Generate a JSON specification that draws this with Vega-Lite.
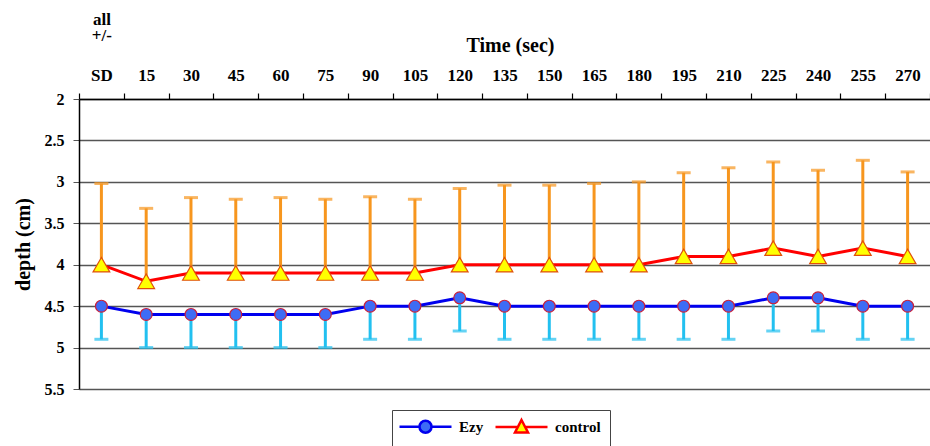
{
  "$schema": "https://vega.github.io/schema/vega-lite/v6.json",
  "width": 851,
  "height": 290,
  "autosize": {"type": "none"},
  "padding": {"left": 79, "top": 99, "right": 0, "bottom": 57},
  "background": "white",
  "config": {"view": {"stroke": null}, "font": "Liberation Serif"},
  "data": {"values": [
    {"time": "all +/- SD", "series": "Ezy", "depth": 4.5, "err": 4.9},
    {"time": "15", "series": "Ezy", "depth": 4.6, "err": 5.0},
    {"time": "30", "series": "Ezy", "depth": 4.6, "err": 5.0},
    {"time": "45", "series": "Ezy", "depth": 4.6, "err": 5.0},
    {"time": "60", "series": "Ezy", "depth": 4.6, "err": 5.0},
    {"time": "75", "series": "Ezy", "depth": 4.6, "err": 5.0},
    {"time": "90", "series": "Ezy", "depth": 4.5, "err": 4.9},
    {"time": "105", "series": "Ezy", "depth": 4.5, "err": 4.9},
    {"time": "120", "series": "Ezy", "depth": 4.4, "err": 4.8},
    {"time": "135", "series": "Ezy", "depth": 4.5, "err": 4.9},
    {"time": "150", "series": "Ezy", "depth": 4.5, "err": 4.9},
    {"time": "165", "series": "Ezy", "depth": 4.5, "err": 4.9},
    {"time": "180", "series": "Ezy", "depth": 4.5, "err": 4.9},
    {"time": "195", "series": "Ezy", "depth": 4.5, "err": 4.9},
    {"time": "210", "series": "Ezy", "depth": 4.5, "err": 4.9},
    {"time": "225", "series": "Ezy", "depth": 4.4, "err": 4.8},
    {"time": "240", "series": "Ezy", "depth": 4.4, "err": 4.8},
    {"time": "255", "series": "Ezy", "depth": 4.5, "err": 4.9},
    {"time": "270", "series": "Ezy", "depth": 4.5, "err": 4.9},
    {"time": "all +/- SD", "series": "control", "depth": 4.0, "err": 3.02},
    {"time": "15", "series": "control", "depth": 4.2, "err": 3.32},
    {"time": "30", "series": "control", "depth": 4.1, "err": 3.19},
    {"time": "45", "series": "control", "depth": 4.1, "err": 3.21},
    {"time": "60", "series": "control", "depth": 4.1, "err": 3.19},
    {"time": "75", "series": "control", "depth": 4.1, "err": 3.21},
    {"time": "90", "series": "control", "depth": 4.1, "err": 3.18},
    {"time": "105", "series": "control", "depth": 4.1, "err": 3.21},
    {"time": "120", "series": "control", "depth": 4.0, "err": 3.08},
    {"time": "135", "series": "control", "depth": 4.0, "err": 3.04},
    {"time": "150", "series": "control", "depth": 4.0, "err": 3.04},
    {"time": "165", "series": "control", "depth": 4.0, "err": 3.02},
    {"time": "180", "series": "control", "depth": 4.0, "err": 3.0},
    {"time": "195", "series": "control", "depth": 3.9, "err": 2.89},
    {"time": "210", "series": "control", "depth": 3.9, "err": 2.83},
    {"time": "225", "series": "control", "depth": 3.8, "err": 2.76},
    {"time": "240", "series": "control", "depth": 3.9, "err": 2.86},
    {"time": "255", "series": "control", "depth": 3.8, "err": 2.74},
    {"time": "270", "series": "control", "depth": 3.9, "err": 2.88}
  ]},
  "encoding": {
    "x": {
      "field": "time", "type": "nominal", "sort": null,
      "scale": {"type": "band", "paddingInner": 0, "paddingOuter": 0},
      "axis": {
        "orient": "top", "title": "Time (sec)", "labelAngle": 0, "tickBand": "extent",
        "grid": false, "domainColor": "#000000", "domainWidth": 1.5, "tickColor": "#000000", "tickWidth": 1.2,
        "tickSize": 6, "labelFontSize": 17, "labelFontWeight": "bold", "labelColor": "#000000",
        "labelPadding": 9, "labelLineHeight": -8,
        "labelExpr": "datum.value == 'all +/- SD' ? ['SD', '\u200b', '\u200b', '\u200b', '\u200b', '+/-', '\u200b', 'all'] : datum.label",
        "titleFontSize": 20, "titleFontWeight": "bold", "titleColor": "#000000",
        "titleY": -54, "titleX": 431, "titleBaseline": "middle"
      }
    },
    "y": {
      "field": "depth", "type": "quantitative",
      "scale": {"domain": [2, 5.5], "reverse": true, "nice": false, "zero": false},
      "axis": {
        "title": "depth (cm)", "values": [2, 2.5, 3, 3.5, 4, 4.5, 5, 5.5], "format": "~g",
        "gridColor": "#555555", "gridWidth": 1.3, "tickColor": "#555555", "tickSize": 6,
        "domainColor": "#000000", "domainWidth": 1.5, "labelFlush": false,
        "labelFontSize": 16, "labelFontWeight": "bold", "labelColor": "#000000", "labelPadding": 9,
        "titleFontSize": 20, "titleFontWeight": "bold", "titleColor": "#000000", "titlePadding": 11
      }
    }
  },
  "layer": [
    {
      "mark": {"type": "rule", "strokeWidth": 3},
      "encoding": {
        "y2": {"field": "err"},
        "color": {"condition": {"test": "datum.series === 'Ezy'", "value": "#22c0f0"}, "value": "#f7961e"}
      }
    },
    {
      "mark": {"type": "tick", "thickness": 3, "size": 14},
      "encoding": {
        "y": {"field": "err", "type": "quantitative"},
        "color": {"condition": {"test": "datum.series === 'Ezy'", "value": "#22c0f0"}, "value": "#f7961e"}
      }
    },
    {
      "mark": {"type": "line", "strokeWidth": 3},
      "encoding": {
        "detail": {"field": "series"},
        "color": {"condition": {"test": "datum.series === 'Ezy'", "value": "#0000ee"}, "value": "#ff0000"}
      }
    },
    {
      "mark": {"type": "point", "filled": true, "opacity": 1, "strokeWidth": 1.2},
      "encoding": {
        "shape": {"condition": {"test": "datum.series === 'Ezy'", "value": "circle"}, "value": "triangle-up"},
        "fill": {"condition": {"test": "datum.series === 'Ezy'", "value": "#3d6cf5"}, "value": "#ffff00"},
        "stroke": {"condition": {"test": "datum.series === 'Ezy'", "value": "#c8203c"}, "value": "#e0500a"},
        "size": {"condition": {"test": "datum.series === 'Ezy'", "value": 140}, "value": 280}
      }
    },
    {
      "mark": {"type": "point", "filled": true, "opacity": 0},
      "encoding": {
        "shape": {
          "field": "series", "type": "nominal",
          "scale": {"domain": ["Ezy", "control"], "range": ["M-5.2,0L-1.2,0M1.2,0L5.2,0M-1.2,0A1.2,1.2,0,1,0,1.2,0A1.2,1.2,0,1,0,-1.2,0Z", "M-5.2,0L-0.75,0M0.75,0L5.2,0M0,-1.4L1.3,1.1L-1.3,1.1Z"]},
          "legend": {
            "title": null, "orient": "none", "legendX": 313, "legendY": 311,
            "direction": "horizontal", "strokeColor": "#444444", "padding": 9,
            "labelFontSize": 15, "labelFontWeight": "bold", "labelFont": "Liberation Serif", "labelColor": "#000000",
            "symbolSize": 100, "symbolOffset": 17, "labelOffset": 26, "columnPadding": 6,
            "symbolOpacity": 1, "symbolStrokeWidth": 2.5
          }
        },
        "fill": {
          "field": "series", "type": "nominal",
          "scale": {"domain": ["Ezy", "control"], "range": ["#3d6cf5", "#ffff00"]},
          "legend": {
            "title": null, "orient": "none", "legendX": 313, "legendY": 311,
            "direction": "horizontal", "strokeColor": "#444444", "padding": 9,
            "labelFontSize": 15, "labelFontWeight": "bold", "labelFont": "Liberation Serif", "labelColor": "#000000",
            "symbolSize": 100, "symbolOffset": 17, "labelOffset": 26, "columnPadding": 6,
            "symbolOpacity": 1, "symbolStrokeWidth": 2.5
          }
        },
        "stroke": {
          "field": "series", "type": "nominal",
          "scale": {"domain": ["Ezy", "control"], "range": ["#0000ee", "#ff0000"]},
          "legend": {
            "title": null, "orient": "none", "legendX": 313, "legendY": 311,
            "direction": "horizontal", "strokeColor": "#444444", "padding": 9,
            "labelFontSize": 15, "labelFontWeight": "bold", "labelFont": "Liberation Serif", "labelColor": "#000000",
            "symbolSize": 100, "symbolOffset": 17, "labelOffset": 26, "columnPadding": 6,
            "symbolOpacity": 1, "symbolStrokeWidth": 2.5
          }
        }
      }
    }
  ]
}
